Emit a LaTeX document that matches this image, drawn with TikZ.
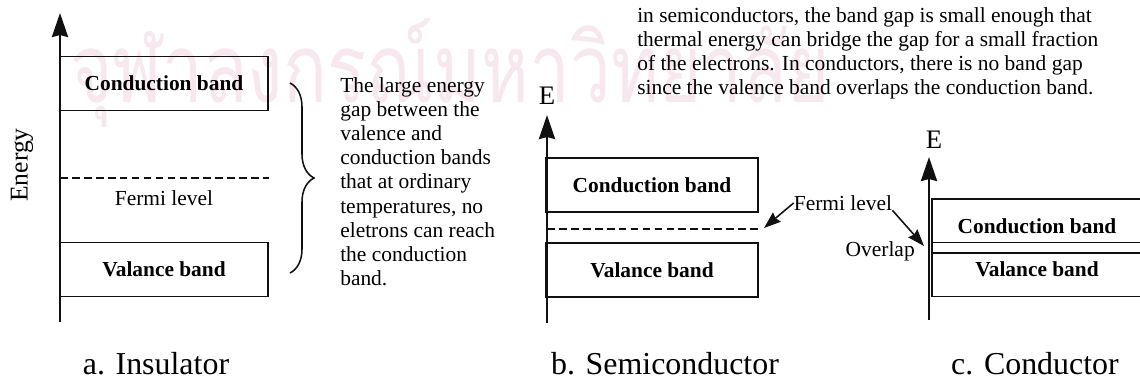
\documentclass[tikz,border=0pt]{standalone}
\usepackage{fontspec}
\setmainfont{Liberation Serif}
\newfontfamily\thaifont[Script=Thai]{Loma}
\usetikzlibrary{arrows.meta,positioning,decorations.pathreplacing}
\definecolor{bdInk}{HTML}{111111}
\definecolor{bdWater}{HTML}{F7E7EE}
\tikzset{
  band/.style={draw=bdInk, line width=1.3pt, inner sep=0pt, minimum height=1.35cm, font=\fontsize{15.2}{17}\selectfont\bfseries},
  axisline/.style={-{Stealth[length=0.6cm, width=0.4cm, inset=0.05cm]}, line width=1.9pt, draw=bdInk},
  fermiline/.style={draw=bdInk, line width=1.3pt, dash pattern=on 5.5pt off 3pt},
  pointer/.style={-{Stealth[length=0.42cm, width=0.3cm, inset=0.04cm]}, line width=1.1pt, draw=bdInk},
  note/.style={font=\fontsize{15.25}{17.2}\selectfont, align=left, inner sep=0pt, anchor=north west},
  lbl/.style={font=\fontsize{15.25}{17.2}\selectfont, inner sep=0pt},
  elbl/.style={font=\fontsize{19}{22}\selectfont, inner sep=0pt},
  capt/.style={font=\fontsize{22.7}{27}\selectfont, inner sep=0pt, anchor=base},
  gapbrace/.style={decorate, decoration={brace, amplitude=0.6cm}, line width=1.1pt, draw=bdInk},
  wmark/.style={font=\thaifont\fontsize{68}{80}\selectfont, text=bdWater, inner sep=0pt, anchor=base west, xscale=0.76},
}
\begin{document}
\begin{tikzpicture}[x=0.025cm, y=-0.025cm]
  \useasboundingbox (0,0) rectangle (1140,381);
  \node[wmark] (wm) at (70,103) {จุฬาลงกรณ์มหาวิทยาลัย};

  % a. Insulator
  \coordinate (insBot) at (60,322);
  \coordinate (insTop) at (60,13);
  \draw[axisline] (insBot) -- (insTop);
  \node[rotate=90, elbl, font=\fontsize{18.2}{21}\selectfont] (energy) at (22,165) {Energy};
  \node[band, minimum width=5.2cm] (insC) at (164,83.5) {Conduction band};
  \node[band, minimum width=5.2cm] (insV) at (164,269.5) {Valance band};
  \coordinate (insF1) at (60,178);
  \coordinate (insF2) at (269,178);
  \draw[fermiline] (insF1) -- (insF2);
  \node[lbl] (insFl) at (164,198) {Fermi level};
  \coordinate (brTop) at (290,83);
  \coordinate (brBot) at (290,273);
  \draw[gapbrace] (brTop) -- (brBot);
  \node[note] (insNote) at (340,77) {The large energy\\gap between the\\valence and\\conduction bands\\that at ordinary\\temperatures, no\\eletrons can reach\\the conduction\\band.};
  \node[capt] (capA) at (156,374) {a. Insulator};

  % b. Semiconductor
  \coordinate (semBot) at (547,323);
  \coordinate (semTop) at (547,115);
  \draw[axisline] (semBot) -- (semTop);
  \node[elbl] (semE) at (547,96) {E};
  \node[band, minimum width=5.3cm] (semC) at (652,185) {Conduction band};
  \node[band, minimum width=5.3cm] (semV) at (652,270) {Valance band};
  \coordinate (semF1) at (547,229);
  \coordinate (semF2) at (760,229);
  \draw[fermiline] (semF1) -- (semF2);
  \node[capt] (capB) at (665,374) {b. Semiconductor};

  % c. Conductor
  \coordinate (conBot) at (929,320);
  \coordinate (conTop) at (929,157);
  \draw[axisline] (conBot) -- (conTop);
  \node[elbl] (conE) at (934,140) {E};
  \node[band, minimum width=5.25cm] (conC) at (1037,226) {Conduction band};
  \node[band, minimum width=5.25cm] (conV) at (1037,269.5) {Valance band};
  \node[lbl, anchor=east] (overlap) at (915,251) {Overlap};
  \node[lbl] (fermiC) at (843,203) {Fermi level};
  \coordinate (semTip) at (764,228);
  \coordinate (conTip) at (924,246);
  \draw[pointer] (fermiC.west) -- (semTip);
  \draw[pointer] (fermiC.base east) -- (conTip);
  \node[note] (topNote) at (637,7) {in semiconductors, the band gap is small enough that\\thermal energy can bridge the gap for a small fraction\\of the electrons. In conductors, there is no band gap\\since the valence band overlaps the conduction band.};
  \node[capt] (capC) at (1035,374) {c. Conductor};
\end{tikzpicture}
\end{document}
